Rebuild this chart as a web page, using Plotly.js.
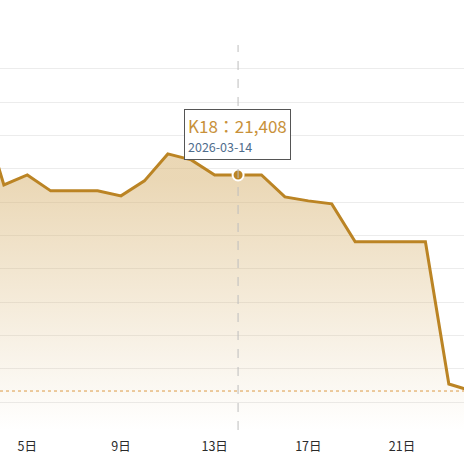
<!DOCTYPE html>
<html>
<head>
<meta charset="utf-8">
<script src="https://cdn.plot.ly/plotly-3.0.1.min.js"></script>
<style>html,body{margin:0;padding:0;background:#fff;}#chart{width:464px;height:464px;}</style>
</head>
<body>
<div id="chart"></div>
<script>
const seriesName = "K18";
const dates = [
  "2026-03-03","2026-03-04","2026-03-05","2026-03-06","2026-03-07","2026-03-08",
  "2026-03-09","2026-03-10","2026-03-11","2026-03-12","2026-03-13","2026-03-14",
  "2026-03-15","2026-03-16","2026-03-17","2026-03-18","2026-03-19","2026-03-20",
  "2026-03-21","2026-03-22","2026-03-23","2026-03-24"
];
const prices = [
  22430, 21260, 21410, 21170, 21170, 21170,
  21095, 21320, 21725, 21635, 21408, 21408,
  21408, 21080, 21020, 20975, 20405, 20405,
  20405, 20405, 18270, 18165
];
const hoverIndex = 11; // 2026-03-14

const gold = "#bb8424";
const hx = dates[hoverIndex], hy = prices[hoverIndex];
const lastPrice = prices[prices.length - 1];
const font = "'Noto Sans CJK JP', 'Noto Sans', sans-serif";

const traces = [
  {
    x: dates, y: prices, name: seriesName, type: "scatter", mode: "lines",
    line: {color: gold, width: 3},
    fill: "tozeroy",
    fillgradient: {
      type: "vertical",
      start: 17580, stop: 21350,
      colorscale: [[0, "rgba(214,176,108,0)"], [1, "rgba(214,176,108,0.5)"]]
    },
    hoverinfo: "skip"
  },
  {
    x: [hx], y: [hy], type: "scatter", mode: "markers",
    marker: {size: 11, color: gold, line: {color: "#fff", width: 2}},
    hoverinfo: "skip"
  }
];

const layout = {
  width: 464, height: 464,
  margin: {l: 0, r: 0, t: 45, b: 34},
  paper_bgcolor: "#fff", plot_bgcolor: "#fff",
  showlegend: false,
  font: {family: font},
  xaxis: {
    type: "date",
    range: ["2026-03-03 20:01", "2026-03-23 15:32"],
    tick0: "2026-03-01", dtick: 4 * 86400000,
    tickformat: "%-d日",
    showgrid: false, zeroline: false, showline: false,
    ticks: "", ticklabelstandoff: 7,
    tickfont: {size: 12.5, color: "#2a2a2a", family: font}
  },
  yaxis: {
    range: [17580, 23360],
    tick0: 0, dtick: 500,
    showticklabels: false, ticks: "",
    gridcolor: "#ececec", gridwidth: 1,
    zeroline: false, showline: false
  },
  shapes: [
    {type: "line", xref: "x", yref: "paper", x0: hx, x1: hx, y0: 0, y1: 1,
     line: {color: "#bdbdbd", width: 1, dash: "dash"}},
    {type: "line", xref: "paper", yref: "y", x0: 0, x1: 1, y0: lastPrice, y1: lastPrice,
     line: {color: "#dc9a45", width: 1, dash: "dot"}}
  ],
  annotations: [
    {
      x: hx, y: hy, xref: "x", yref: "y",
      showarrow: false, xanchor: "center", yanchor: "bottom",
      xshift: -1, yshift: 15,
      align: "left",
      bgcolor: "#fff", bordercolor: "#555", borderwidth: 1, borderpad: 3,
      text: "<span style='color:#c8913a;font-size:17px'>" + seriesName + "：" + hy.toLocaleString("en-US") +
            "</span><br><span style='color:#4f6d8c;font-size:12.5px'>" + hx + "</span>",
      font: {family: font, size: 14.5}
    }
  ]
};

Plotly.newPlot("chart", traces, layout, {displayModeBar: false, staticPlot: true});
</script>
</body>
</html>
